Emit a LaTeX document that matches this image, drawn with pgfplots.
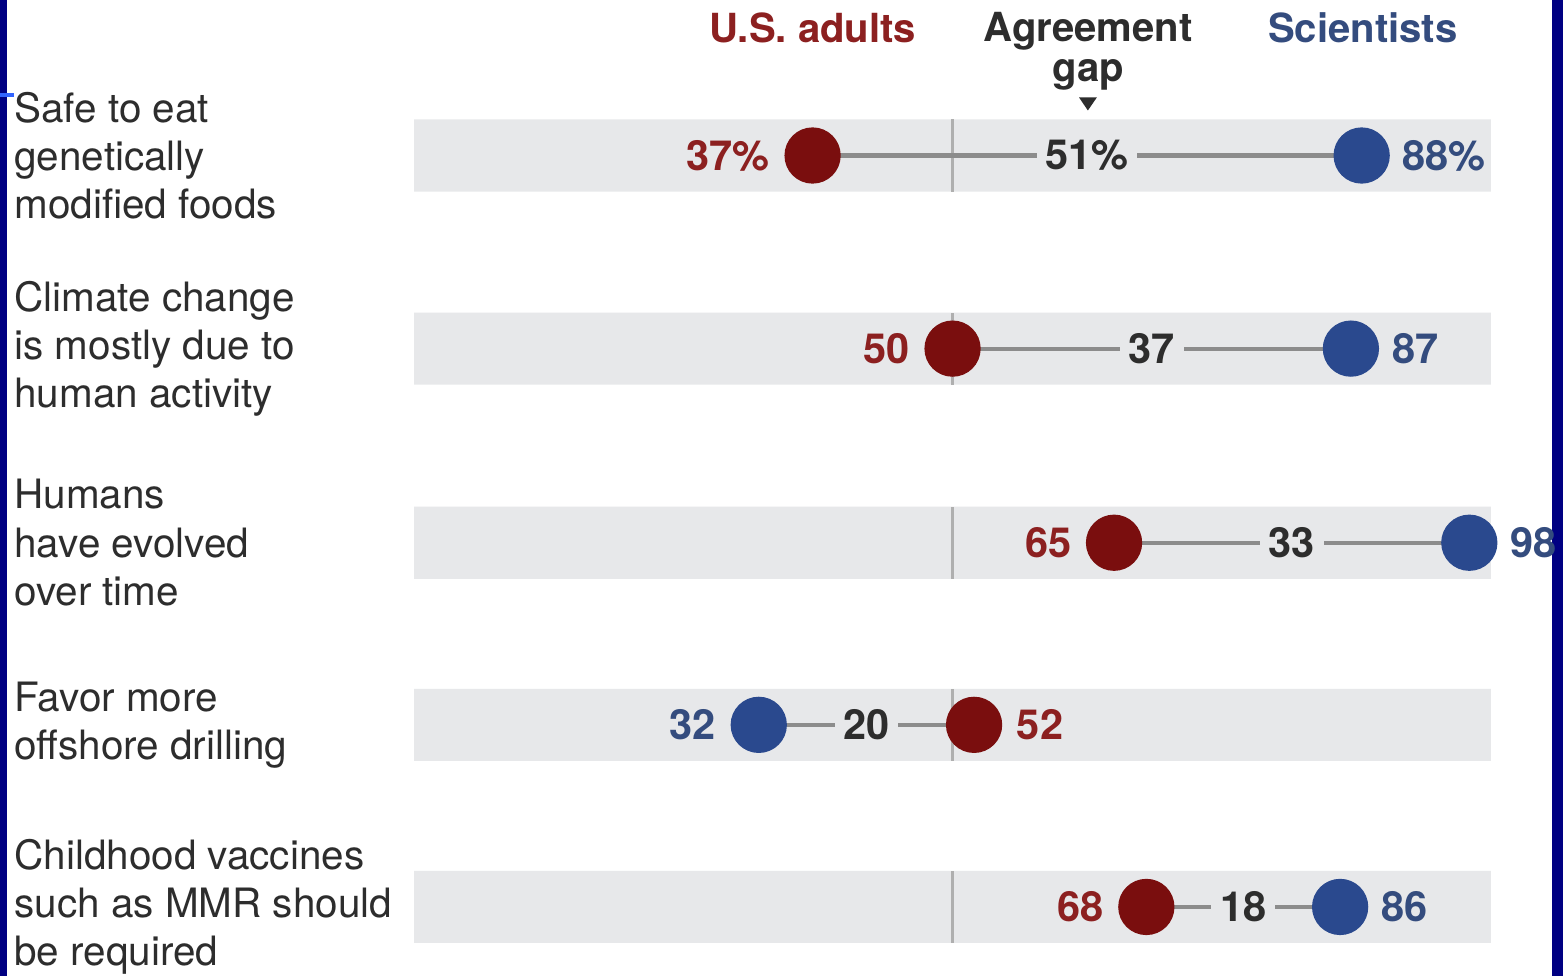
\documentclass[border=0pt]{standalone}
\usepackage{pgfplots}
\pgfplotsset{compat=1.18}
\usepackage{fontspec}
\setmainfont{TeX Gyre Heros}
\definecolor{adultred}{RGB}{122,14,14}
\definecolor{adulttext}{RGB}{140,32,32}
\definecolor{scidot}{RGB}{42,73,142}
\definecolor{scitext}{RGB}{52,76,126}
\definecolor{bandgray}{RGB}{231,232,234}
\definecolor{linegray}{RGB}{140,140,140}
\definecolor{midgray}{RGB}{175,175,175}
\definecolor{txt}{RGB}{45,45,45}
\definecolor{navy}{RGB}{0,0,130}
\definecolor{lightblue}{RGB}{50,100,255}
\tikzset{numfont/.style={font=\bfseries\fontsize{11.8}{14}\selectfont}}
\begin{document}
\begin{tikzpicture}
\begin{scope}[x=0.01cm,y=0.01cm]
\path[use as bounding box] (0,0) rectangle (1563,976);
\fill[white] (0,0) rectangle (1563,976);
\fill[navy] (0,0) rectangle (7,976);
\fill[navy] (1552,0) rectangle (1563,976);
\fill[lightblue] (0,879) rectangle (14,883);
\end{scope}
\begin{axis}[
  scale only axis, width=10.76cm, height=9.76cm,
  at={(4.14cm,0cm)}, anchor=south west,
  xmin=0, xmax=100, ymin=0, ymax=976,
  axis lines=none, clip=false,
]
% background bands
\addplot[xbar, bar width=72, fill=bandgray, draw=none, bar shift=0pt]
  coordinates {(100,820) (100,627) (100,433) (100,251) (100,69)};
% 50% reference line
\addplot[midgray, line width=0.6pt, unbounded coords=jump]
  coordinates {(50,784) (50,856) (50,nan) (50,591) (50,663) (50,nan)
               (50,397) (50,469) (50,nan) (50,215) (50,287) (50,nan)
               (50,33) (50,105)};
% connectors
\addplot[linegray, line width=1.2pt, unbounded coords=jump]
  coordinates {(37,820) (88,820) (50,nan) (50,627) (87,627) (50,nan)
               (65,433) (98,433) (50,nan) (32,251) (52,251) (50,nan)
               (68,69) (86,69)};
% gap labels
\addplot[draw=none, mark=none, nodes near coords, point meta=explicit symbolic,
  every node near coord/.append style={anchor=center, fill=bandgray, inner xsep=2.5pt,
  inner ysep=1pt, numfont, text=txt}]
  coordinates {(62.5,820)[51\%] (68.5,627)[37] (81.5,433)[33] (42,251)[20] (77,69)[18]};
% U.S. adults
\addplot[only marks, mark=*, mark size=7.8pt, color=adultred, nodes near coords,
  point meta=explicit symbolic,
  every node near coord/.append style={anchor=east, xshift=-12pt, inner sep=0pt, numfont, text=adulttext}]
  coordinates {(37,820)[37\%] (50,627)[50] (65,433)[65] (68,69)[68]};
\addplot[only marks, mark=*, mark size=7.8pt, color=adultred, nodes near coords,
  point meta=explicit symbolic,
  every node near coord/.append style={anchor=west, xshift=12pt, inner sep=0pt, numfont, text=adulttext}]
  coordinates {(52,251)[52]};
% Scientists
\addplot[only marks, mark=*, mark size=7.8pt, color=scidot, nodes near coords,
  point meta=explicit symbolic,
  every node near coord/.append style={anchor=west, xshift=11.5pt, inner sep=0pt, numfont, text=scitext}]
  coordinates {(88,820)[88\%] (87,627)[87] (98,433)[98] (86,69)[86]};
\addplot[only marks, mark=*, mark size=7.8pt, color=scidot, nodes near coords,
  point meta=explicit symbolic,
  every node near coord/.append style={anchor=east, xshift=-12pt, inner sep=0pt, numfont, text=scitext}]
  coordinates {(32,251)[32]};
% headers
\node[anchor=base, inner sep=0pt, font=\bfseries\fontsize{11.4}{14}\selectfont, text=adulttext] at (axis cs:37,933) {U.S. adults};
\node[anchor=base, inner sep=0pt, font=\bfseries\fontsize{11.4}{14}\selectfont, text=txt] at (axis cs:62.6,934) {Agreement};
\node[anchor=base, inner sep=0pt, font=\bfseries\fontsize{11.4}{14}\selectfont, text=txt] at (axis cs:62.6,894) {gap};
\node[anchor=base, inner sep=0pt, font=\bfseries\fontsize{11.4}{14}\selectfont, text=scitext] at (axis cs:88.1,933) {Scientists};
\fill[txt] (axis cs:61.75,878) -- (axis cs:63.4,878) -- (axis cs:62.57,865) -- cycle;
% category labels
\begin{scope}[every node/.style={anchor=west, align=left, inner sep=0pt, text=txt, font=\fontsize{11.5}{13.7}\selectfont}]
\node at (axis cs:-37.2,820) {Safe to eat\\genetically\\modified foods};
\node at (axis cs:-37.2,627) {Climate change\\is mostly due to\\human activity};
\node at (axis cs:-37.2,433) {Humans\\have evolved\\over time};
\node at (axis cs:-37.2,251) {Favor more\\offshore drilling};
\node at (axis cs:-37.2,69) {Childhood vaccines\\such as MMR should\\be required};
\end{scope}
\end{axis}
\end{tikzpicture}
\end{document}
